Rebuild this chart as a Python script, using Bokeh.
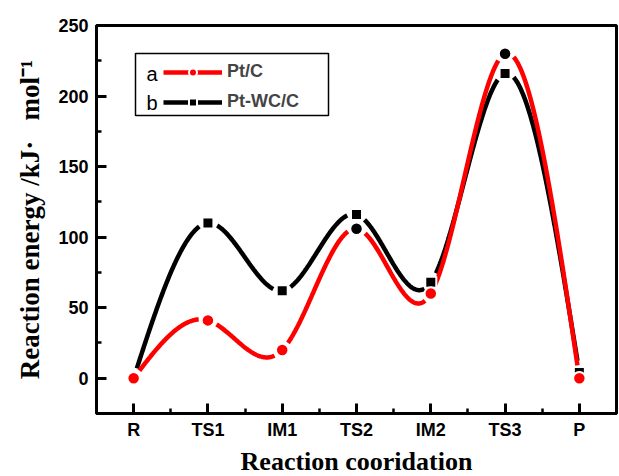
import numpy as np
from bokeh.plotting import figure
from bokeh.models import (ColumnDataSource, Range1d, FixedTicker, Legend, LegendItem,
                          Label, BoxAnnotation)
from bokeh.embed import file_html
from bokeh.resources import INLINE

# ---------------- data ----------------
stages = ["R", "TS1", "IM1", "TS2", "IM2", "TS3", "P"]
pt_c = [0, 41, 20, 106, 60, 230, 0]          # a  Pt/C
pt_wc_c = [0, 110, 62, 116, 68, 216, 4]      # b  Pt-WC/C
y_ticks = [0, 50, 100, 150, 200, 250]

# marker colours of series a (two markers appear black in the original)
pt_c_marker_colors = ["red", "red", "red", "black", "red", "black", "red"]

FRAME_W, FRAME_H = 520, 388
X0, X1 = -0.5, len(stages) - 0.5
Y0, Y1 = -25, 250


def natural_spline(xs, ys, n=700):
    xs = np.asarray(xs, float)
    ys = np.asarray(ys, float)
    m = len(xs)
    h = np.diff(xs)
    A = np.zeros((m, m))
    r = np.zeros(m)
    A[0, 0] = A[-1, -1] = 1.0
    for i in range(1, m - 1):
        A[i, i - 1] = h[i - 1]
        A[i, i] = 2 * (h[i - 1] + h[i])
        A[i, i + 1] = h[i]
        r[i] = 6 * ((ys[i + 1] - ys[i]) / h[i] - (ys[i] - ys[i - 1]) / h[i - 1])
    M = np.linalg.solve(A, r)
    xx = np.linspace(xs[0], xs[-1], n)
    yy = np.empty_like(xx)
    for k, x in enumerate(xx):
        i = min(np.searchsorted(xs, x, side="right") - 1, m - 2)
        t1 = xs[i + 1] - x
        t0 = x - xs[i]
        yy[k] = (M[i] * t1 ** 3 / (6 * h[i]) + M[i + 1] * t0 ** 3 / (6 * h[i])
                 + (ys[i] / h[i] - M[i] * h[i] / 6) * t1
                 + (ys[i + 1] / h[i] - M[i + 1] * h[i] / 6) * t0)
    return xx, yy


def gapped_curve(xs, ys, gap_px=9.0):
    xx, yy = natural_spline(xs, ys)
    kx = FRAME_W / (X1 - X0)
    ky = FRAME_H / (Y1 - Y0)
    d = np.full_like(xx, np.inf)
    for x, y in zip(xs, ys):
        d = np.minimum(d, np.hypot((xx - x) * kx, (yy - y) * ky))
    yy = np.where(d < gap_px, np.nan, yy)
    return xx, yy


xpos = list(range(len(stages)))

p = figure(frame_width=FRAME_W, frame_height=FRAME_H,
           x_range=Range1d(X0, X1), y_range=Range1d(Y0, Y1),
           output_backend="svg", toolbar_location=None,
           min_border_left=96, min_border_right=3, min_border_top=25, min_border_bottom=63)
p.background_fill_color = "white"
p.border_fill_color = "white"
p.outline_line_color = "black"
p.outline_line_width = 3
p.xgrid.visible = False
p.ygrid.visible = False

# curves
bx, by = gapped_curve(xpos, pt_wc_c)
rx, ry = gapped_curve(xpos, pt_c)
b_line = p.line(bx, by, line_color="black", line_width=4.5)
r_line = p.line(rx, ry, line_color="red", line_width=4.5)

src_b = ColumnDataSource(dict(x=xpos, y=pt_wc_c))
src_r = ColumnDataSource(dict(x=xpos, y=pt_c, c=pt_c_marker_colors))
b_mark = p.scatter("x", "y", source=src_b, marker="square", size=11,
                   fill_color="black", line_color="white", line_width=2)
r_mark = p.scatter("x", "y", source=src_r, marker="circle", size=12.5,
                   fill_color="c", line_color="white", line_width=2)

# axes
p.xaxis.ticker = FixedTicker(ticks=xpos, minor_ticks=[i + 0.5 for i in range(-1, len(stages))])
p.xaxis.major_label_overrides = {i: s for i, s in enumerate(stages)}
p.yaxis.ticker = FixedTicker(ticks=y_ticks, minor_ticks=[t + 25 for t in [-50] + y_ticks])

for ax in (p.xaxis[0], p.yaxis[0]):
    ax.axis_line_width = 3
    ax.axis_line_color = "black"
    ax.major_tick_line_width = 3
    ax.major_tick_in = 10
    ax.major_tick_out = 0
    ax.minor_tick_line_width = 2.5
    ax.minor_tick_in = 5
    ax.minor_tick_out = 0
    ax.major_label_text_font = "Liberation Sans"
    ax.major_label_text_font_style = "bold"
    ax.major_label_text_font_size = "18px"
    ax.major_label_text_color = "black"
    ax.axis_label_text_font = "Liberation Serif"
    ax.axis_label_text_font_style = "bold"
    ax.axis_label_text_font_size = "26px"
    ax.axis_label_text_color = "black"

p.xaxis.axis_label = "Reaction cooridation"
p.yaxis.axis_label = "Reaction energy /kJ\u00b7\u00a0\u00a0 mol\u207b\u00b9"
p.yaxis.axis_label_text_font_size = "27px"
p.xaxis.major_label_standoff = 6
p.xaxis.axis_label_standoff = 4
p.yaxis.major_label_standoff = 8
p.yaxis.axis_label_standoff = 10

# legend
legend = Legend(items=[LegendItem(label="Pt/C", renderers=[r_line, r_mark]),
                       LegendItem(label="Pt-WC/C", renderers=[b_line, b_mark])],
                location=(67, 301), padding=0, margin=0, spacing=9,
                glyph_width=59, glyph_height=20, label_standoff=5,
                label_text_font="Liberation Sans", label_text_font_style="bold",
                label_text_font_size="18px", label_height=20,
                border_line_alpha=0, background_fill_alpha=0)
p.add_layout(legend, "center")

for txt, yy in (("a", 340), ("b", 311)):
    p.add_layout(Label(x=50, y=yy, x_units="screen", y_units="screen", text=txt,
                       text_baseline="middle", text_font="Liberation Sans",
                       text_font_style="normal", text_font_size="20px", text_color="black"))

p.add_layout(BoxAnnotation(left=39, right=232, top=360, bottom=298,
                           left_units="screen", right_units="screen",
                           top_units="screen", bottom_units="screen",
                           fill_alpha=0, line_color="black", line_alpha=1,
                           line_width=1.5))

open("out.html", "w").write(file_html(p, INLINE))
